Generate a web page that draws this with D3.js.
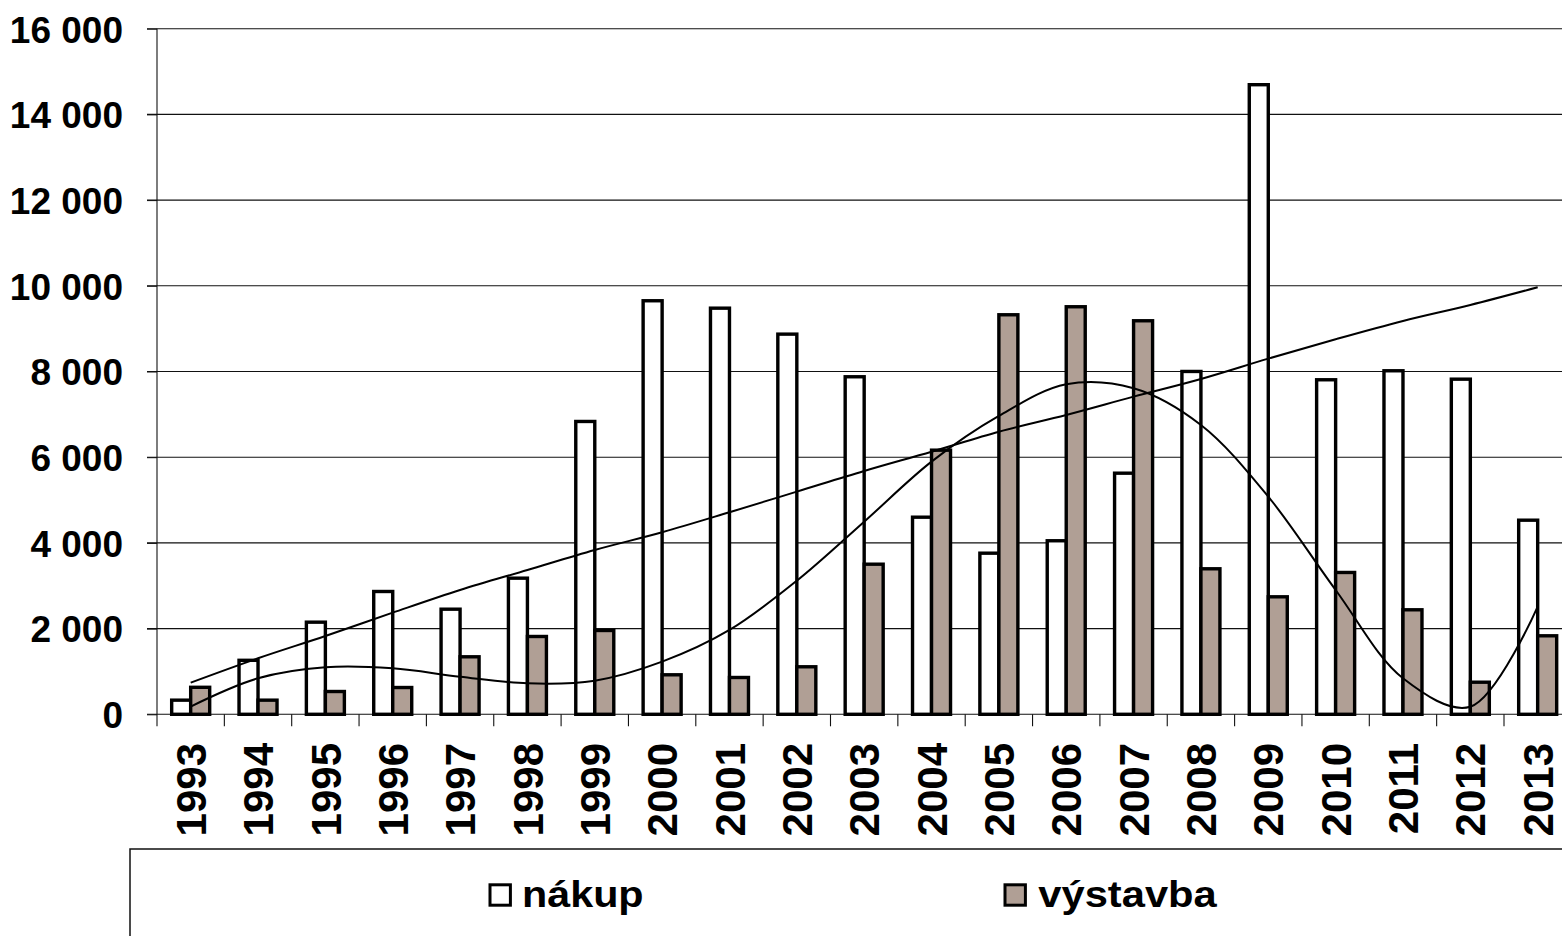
<!DOCTYPE html>
<html>
<head>
<meta charset="utf-8">
<script src="https://cdn.jsdelivr.net/npm/d3@7"></script>
<style>
  body { margin: 0; background: #fff; }
  text { font-family: "Liberation Sans", Arial, sans-serif; font-weight: bold; fill: #000; }
</style>
</head>
<body>
<svg id="chart" width="1562" height="936"></svg>
<script>
// values
const years = d3.range(1993, 2014).map(String);
const nakup = [330, 1260, 2150, 2866, 2453, 3177, 6834, 9651, 9478, 8872, 7877,
  4600, 3760, 4050, 5627, 8001, 14693, 7807, 8017, 7821, 4530];
const vystavba = [630, 330, 532, 625, 1342, 1816, 1956, 922, 859, 1109, 3503,
  6164, 9324, 9511, 9184, 3396, 2742, 3310, 2439, 749, 1832];
// trend lines as they appear on the picture, one value per year
const trendUpper = [738, 1307, 1827, 2372, 2901, 3368, 3835, 4248, 4715, 5196, 5679,
  6129, 6596, 6986, 7413, 7826, 8300, 8753, 9180, 9553, 9966];
const trendPoly = [180, 840, 1097, 1073, 878, 723, 784, 1228, 1968, 3118, 4495,
  5896, 6962, 7702, 7609, 6752, 5079, 2901, 840, 177, 2511];
const yTicks = d3.range(0, 16001, 2000);
const seriesNames = ['nákup', 'výstavba'];

const colors = { nakup: '#ffffff', vystavba: '#b09f95' };

const svg = d3.select('#chart');
const left = 157;
const step = 67.35;
const x = d3.scaleBand().domain(years).range([left, left + step * years.length]);
const y = d3.scaleLinear().domain([0, 16000]).range([714.3, 28.7]);
const barW = 19;

const fmt = d3.formatLocale({ decimal: ',', thousands: ' ', grouping: [3], currency: ['', ''] }).format(',');

// gridlines
svg.append('g')
  .selectAll('line')
  .data(yTicks)
  .join('line')
  .attr('x1', left - 10)
  .attr('x2', 1562)
  .attr('y1', d => y(d))
  .attr('y2', d => y(d))
  .attr('stroke', '#111')
  .attr('stroke-width', 1.1);

// y axis
const yAxis = svg.append('g')
  .attr('transform', `translate(${left},0)`)
  .call(d3.axisLeft(y).tickValues(yTicks).tickSize(10).tickPadding(24).tickFormat(fmt));
yAxis.select('.domain').remove();
yAxis.selectAll('.tick line').attr('stroke', '#111');
yAxis.selectAll('text').style('font-size', '37px').attr('dy', '0.36em');
svg.append('line')
  .attr('x1', left).attr('x2', left)
  .attr('y1', y(16000)).attr('y2', y(0) + 12)
  .attr('stroke', '#111').attr('stroke-width', 1.1);

// x ticks at category boundaries
svg.append('g')
  .selectAll('line')
  .data(years.slice(1))
  .join('line')
  .attr('x1', d => x(d))
  .attr('x2', d => x(d))
  .attr('y1', y(0))
  .attr('y2', y(0) + 12)
  .attr('stroke', '#111')
  .attr('stroke-width', 1.1);

// x labels
svg.append('g')
  .selectAll('text')
  .data(years)
  .join('text')
  .attr('transform', d => `translate(${x(d) + x.bandwidth() / 2},743) rotate(-90)`)
  .attr('text-anchor', 'end')
  .attr('dy', '0.36em')
  .style('font-size', '42px')
  .text(d => d);

// bars
const bars = svg.append('g');
bars.selectAll('rect.n')
  .data(years)
  .join('rect')
  .attr('class', 'n')
  .attr('x', d => x(d) + x.bandwidth() / 2 - barW)
  .attr('y', (d, i) => y(nakup[i]))
  .attr('width', barW)
  .attr('height', (d, i) => y(0) - y(nakup[i]))
  .attr('fill', colors.nakup)
  .attr('stroke', '#000')
  .attr('stroke-width', 3.4);
bars.selectAll('rect.v')
  .data(years)
  .join('rect')
  .attr('class', 'v')
  .attr('x', d => x(d) + x.bandwidth() / 2)
  .attr('y', (d, i) => y(vystavba[i]))
  .attr('width', barW)
  .attr('height', (d, i) => y(0) - y(vystavba[i]))
  .attr('fill', colors.vystavba)
  .attr('stroke', '#000')
  .attr('stroke-width', 3.4);

// trend lines
const cx = d => x(d) + x.bandwidth() / 2;
const line = d3.line()
  .x((d, i) => cx(years[i]))
  .y(d => y(d));
svg.append('path')
  .datum(trendUpper)
  .attr('d', line.curve(d3.curveMonotoneX))
  .attr('fill', 'none')
  .attr('stroke', '#000')
  .attr('stroke-width', 2);
svg.append('path')
  .datum(trendPoly)
  .attr('d', line.curve(d3.curveCatmullRom.alpha(0.5)))
  .attr('fill', 'none')
  .attr('stroke', '#000')
  .attr('stroke-width', 2);

// legend
svg.append('rect')
  .attr('x', 130).attr('y', 849)
  .attr('width', 1500).attr('height', 200)
  .attr('fill', '#fff')
  .attr('stroke', '#111')
  .attr('stroke-width', 1.5);

const legendItems = [
  { name: seriesNames[0], fill: colors.nakup, sx: 490, tx: 522, tw: 121.6 },
  { name: seriesNames[1], fill: colors.vystavba, sx: 1005, tx: 1038.3, tw: 178.4 }
];
const lg = svg.append('g')
  .selectAll('g')
  .data(legendItems)
  .join('g');
lg.append('rect')
  .attr('x', d => d.sx)
  .attr('y', 884.8)
  .attr('width', 20.4)
  .attr('height', 20.4)
  .attr('fill', d => d.fill)
  .attr('stroke', '#000')
  .attr('stroke-width', 3);
lg.append('text')
  .attr('x', d => d.tx)
  .attr('y', 906.7)
  .attr('textLength', d => d.tw)
  .attr('lengthAdjust', 'spacingAndGlyphs')
  .style('font-size', '37.5px')
  .text(d => d.name);
</script>
</body>
</html>
